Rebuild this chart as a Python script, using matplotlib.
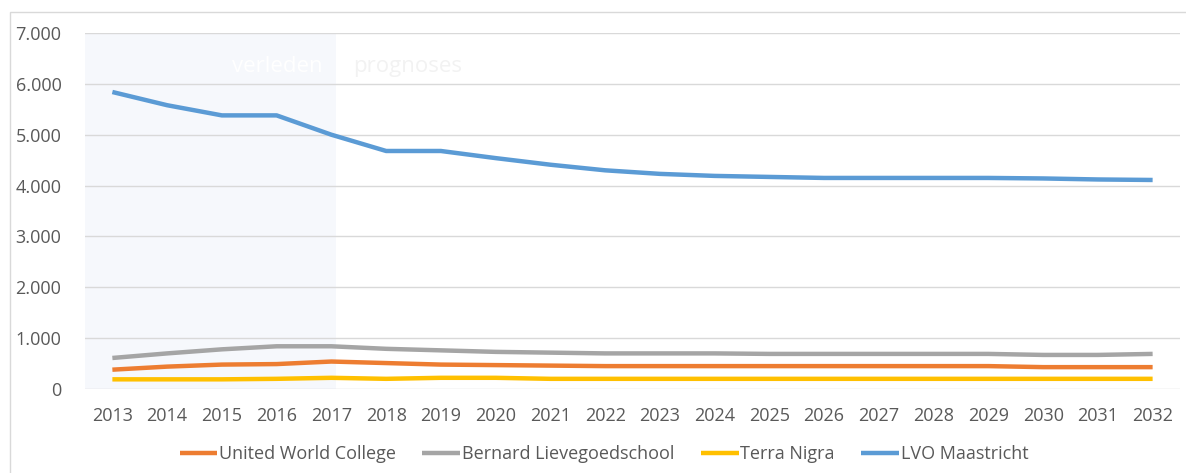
import numpy as np
from matplotlib import pyplot as plt
from matplotlib.patches import Rectangle
from matplotlib.ticker import FuncFormatter

plt.rcParams['font.family'] = ['Open Sans', 'DejaVu Sans']

years = [str(y) for y in range(2013, 2033)]
uwc = [380, 440, 480, 490, 540, 510, 480, 470, 460, 450, 450, 450, 450, 450, 450, 450, 450, 430, 430, 430]
bernard = [610, 700, 780, 840, 840, 790, 760, 730, 715, 700, 700, 700, 690, 690, 690, 690, 690, 670, 670, 690]
terra = [190, 190, 190, 200, 220, 200, 220, 220, 200, 200, 200, 200, 200, 200, 200, 200, 200, 200, 200, 200]
lvo = [5840, 5580, 5380, 5380, 5000, 4680, 4680, 4540, 4410, 4300, 4230, 4190, 4170, 4150, 4150, 4150, 4150, 4140, 4120, 4110]

names = ['United World College', 'Bernard Lievegoedschool', 'Terra Nigra', 'LVO Maastricht']
colors = ['#ED7D31', '#A5A5A5', '#FFC000', '#5B9BD5']

W, H = 1186, 473
fig = plt.figure(figsize=(W / 100, H / 100), dpi=100)
fig.patches.append(Rectangle((10 / W, -0.1), 1.2, (H - 12) / H + 0.1, transform=fig.transFigure,
                             fill=False, edgecolor='#D9D9D9', linewidth=1))
ax = fig.add_axes([85 / W, 84 / H, (1180 - 85) / W, (389 - 33) / H])

x = np.arange(len(years))
ax.axvspan(-0.5, 4.09, color='#F6F8FC', zorder=0, lw=0)
for vals, name, c in zip([uwc, bernard, terra, lvo], names, colors):
    ax.plot(x, vals, color=c, lw=3.2, label=name, solid_capstyle='butt', zorder=3)

ax.text(3.02, 6340, 'verleden', color='white', fontsize=16, ha='center', va='center')
ax.text(5.4, 6340, 'prognoses', color='#F2F2F2', fontsize=16, ha='center', va='center')

ax.set_xlim(-0.5, len(years) - 0.5)
ax.set_ylim(0, 7000)
ax.set_yticks(range(0, 7001, 1000))
ax.yaxis.set_major_formatter(FuncFormatter(lambda v, p: f'{int(v):,}'.replace(',', '.')))
ax.set_xticks(x)
ax.set_xticklabels(years)
ax.grid(axis='y', color='#D9D9D9', lw=1)
ax.set_axisbelow(True)
for s in ax.spines.values():
    s.set_visible(False)
ax.tick_params(length=0, labelsize=13, labelcolor='#595959')
ax.tick_params(axis='y', pad=17)
ax.tick_params(axis='x', pad=13)

fig.legend(loc='center', bbox_to_anchor=(604 / W, 1 - 454 / H), ncol=4, frameon=False,
           fontsize=13, labelcolor='#595959', handlelength=2.1, handletextpad=0.1, columnspacing=1.45)

fig.savefig('out.png', dpi=100)
